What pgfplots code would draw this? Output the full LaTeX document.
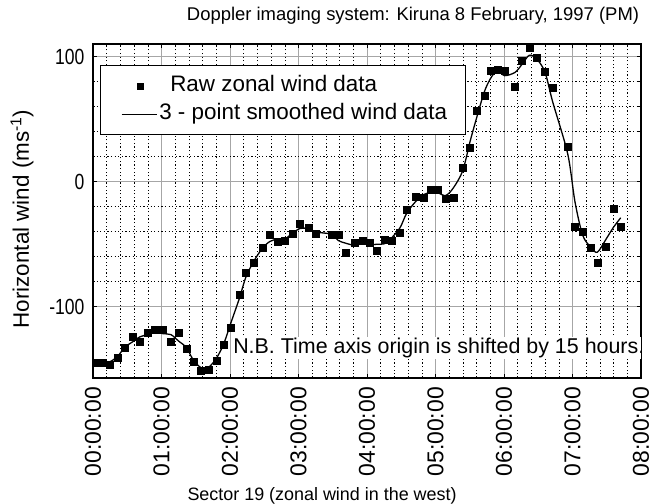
\documentclass[border=0pt]{standalone}
\usepackage{fontspec}
\setmainfont{Liberation Sans}
\newfontfamily\narrowsans[FakeStretch=0.8]{Liberation Sans}
\usepackage{pgfplots}
\usepackage{pgfplotstable}
\pgfplotsset{compat=1.18}

\pgfplotstableread{
x y
0.036 -145.0
0.140 -145.0
0.245 -146.2
0.355 -140.9
0.464 -132.9
0.575 -123.8
0.685 -127.9
0.796 -120.5
0.905 -118.3
1.015 -118.3
1.137 -127.9
1.248 -120.8
1.364 -133.4
1.467 -144.0
1.578 -151.4
1.688 -150.6
1.799 -143.1
1.905 -130.4
2.015 -117.0
2.136 -90.4
2.234 -73.0
2.350 -64.6
2.472 -53.0
2.584 -42.4
2.693 -48.0
2.803 -47.6
2.915 -41.8
3.022 -33.8
3.143 -37.0
3.255 -41.6
3.485 -42.4
3.581 -42.4
3.693 -56.6
3.825 -49.0
3.937 -47.2
4.034 -49.0
4.142 -55.0
4.263 -46.4
4.361 -47.2
4.482 -41.0
4.580 -22.4
4.711 -12.2
4.822 -13.0
4.934 -6.4
5.032 -6.4
5.149 -13.8
5.260 -13.0
5.397 11.4
5.504 27.4
5.601 56.8
5.712 69.0
5.803 89.0
5.905 89.2
6.007 88.8
6.161 76.2
6.258 97.0
6.369 107.0
6.477 99.0
6.599 88.2
6.711 75.0
6.930 27.8
7.036 -36.2
7.149 -39.8
7.266 -52.6
7.362 -64.6
7.489 -52.2
7.596 -21.6
7.704 -36.2
}\rawdata

\pgfplotstableread{
x y
0.036 -145.0
0.140 -145.4
0.245 -144.0
0.355 -140.0
0.464 -132.5
0.575 -128.2
0.685 -124.1
0.796 -122.2
0.905 -119.0
1.015 -121.5
1.137 -122.3
1.248 -127.4
1.364 -132.7
1.467 -142.9
1.578 -148.7
1.688 -148.4
1.799 -141.4
1.905 -130.2
2.015 -112.6
2.136 -93.5
2.234 -76.0
2.350 -63.5
2.472 -53.3
2.584 -47.8
2.693 -46.0
2.803 -45.8
2.915 -41.1
3.022 -37.5
3.143 -37.5
3.255 -40.3
3.485 -42.1
3.581 -47.1
3.693 -49.3
3.825 -50.9
3.937 -48.4
4.034 -50.4
4.142 -50.1
4.263 -49.5
4.361 -44.9
4.482 -36.9
4.580 -25.2
4.711 -15.9
4.822 -10.5
4.934 -8.6
5.032 -8.9
5.149 -11.1
5.260 -5.1
5.397 8.6
5.504 31.9
5.601 51.1
5.712 71.6
5.803 82.4
5.905 89.0
6.007 84.7
6.161 87.3
6.258 93.4
6.369 101.0
6.477 98.1
6.599 87.4
6.711 63.7
6.930 22.2
7.036 -16.1
7.149 -42.9
7.266 -52.3
7.362 -56.5
7.489 -46.1
7.596 -36.7
7.704 -28.9
}\smoothdata

\begin{document}
\begin{tikzpicture}
\useasboundingbox (-93bp,-126bp) rectangle (563bp,378bp);
\begin{axis}[
  scale only axis,
  width=548bp, height=334bp,
  xmin=0, xmax=8, ymin=-157, ymax=110,
  xtick={0,1,2,3,4,5,6,7,8},
  xticklabels={00:00:00,01:00:00,02:00:00,03:00:00,04:00:00,05:00:00,06:00:00,07:00:00,08:00:00},
  ytick={-100,0,100},
  yticklabels={-100,0,100},
  minor x tick num=4,
  minor y tick num=4,
  grid=both,
  major grid style={gray!70, solid, line width=0.8pt},
  minor grid style={black, dash pattern=on 1.2bp off 2.4bp, line width=0.6pt},
  axis line style={line width=1.3pt},
  tick style={black, line width=0.6pt},
  major tick length=4bp, minor tick length=2.5bp,
  xticklabel style={rotate=90, anchor=east, inner xsep=9bp, inner ysep=2bp, font=\fontsize{23}{23}\selectfont},
  yticklabel style={anchor=east, xshift=-5bp, font=\narrowsans\fontsize{22}{22}\selectfont},
  title={Doppler imaging system: Kiruna 8 February, 1997 (PM)},
  title style={at={(axis description cs:0.584,1)}, anchor=center, yshift=22bp, font=\fontsize{18.5}{18.5}\selectfont},
  xlabel={Sector 19 (zonal wind in the west)},
  xlabel style={at={(axis description cs:0.418,0)}, anchor=center, yshift=-117.5bp, font=\fontsize{18}{18}\selectfont},
  ylabel={Horizontal wind (ms\textsuperscript{-1})},
  ylabel style={at={(axis description cs:-0.1296,0.476)}, anchor=center, font=\fontsize{22.5}{22.5}\selectfont},
  legend style={at={(axis description cs:0.0128,0.937)}, anchor=north west,
    draw=black, line width=1.3pt, fill=white,
    inner xsep=16bp, inner ysep=8bp,
    font=\fontsize{22.5}{24}\selectfont,
    row sep=3bp,
    nodes={inner sep=2bp, text height=16bp, text depth=5bp}},
  legend cell align=left,
]
\addplot[only marks, mark=square*, mark size=3.5bp, black,
  legend image code/.code={\path[draw=none, fill=none] (0bp,0bp) rectangle (40bp,0.1bp); \fill[black, draw=none] (20.5bp,-3.5bp) rectangle (27.5bp,3.5bp);}]
  table[x=x, y=y] {\rawdata};
\addlegendentry{\hspace*{11bp}Raw zonal wind data}
\addplot[black, line width=1.3pt, smooth, no marks,
  legend image code/.code={\path[draw=none, fill=none] (0bp,0bp) rectangle (40bp,0.1bp); \draw[black, line width=1.3pt] (5bp,0bp) -- (40bp,0bp);}]
  table[x=x, y=y] {\smoothdata};
\addlegendentry{3 - point smoothed wind data}
\node[anchor=west, fill=white, inner sep=1bp, font=\fontsize{21.5}{21.5}\selectfont] at (axis cs:2.03,-133) {N.B. Time axis origin is shifted by 15 hours.};
\end{axis}
\end{tikzpicture}
\end{document}
